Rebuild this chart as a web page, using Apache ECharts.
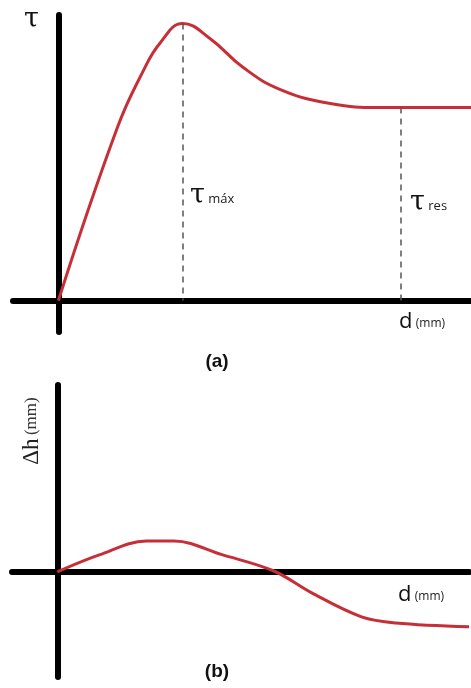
<!DOCTYPE html>
<html>
<head>
<meta charset="utf-8">
<title>ECharts</title>
<script type="text/javascript" src="https://cdn.jsdelivr.net/npm/echarts@6.0.0/dist/echarts.min.js"></script>
<style>
	html, body { margin: 0; padding: 0; background: #fff; }
</style>
</head>
<body>
	<div id="main" style="width: 471px; height: 688px;"></div>
<script type="text/javascript">
	// (a) shear stress vs displacement
	var tauD = [0, 14.3, 20.6, 24.7, 30.1, 36.8, 44.8, 53.8, 65.9, 78, 100];
	var tauV = [0, 60.6, 80.5, 90.3, 97.0, 91.7, 81.6, 73.9, 69.0, 67.6, 67.6];
	// (b) vertical displacement vs displacement
	var dhD = [0, 10.2, 21.6, 28.4, 40, 52.6, 61.8, 73.9, 82.2, 100];
	var dhV = [0, 5.8, 10.6, 10.6, 5.9, 0.3, -7.2, -15.4, -17.5, -18.8];
	// dashed markers: peak and residual
	var tauMax = [30.1, 97.0];
	var tauRes = [82.9, 67.6];

	function pairs(xs, ys) {
		var out = [];
		for (var i = 0; i < xs.length; i++) out.push([xs[i], ys[i]]);
		return out;
	}

	var red = '#c62f37';
	var axisStyle = { show: true, lineStyle: { color: '#000', width: 6, cap: 'round' } };

	function makeAxis(idx, min, max) {
		return {
			type: 'value', gridIndex: idx, min: min, max: max,
			axisLine: axisStyle,
			axisTick: { show: false }, axisLabel: { show: false }, splitLine: { show: false }
		};
	}

	var tauFont = '27px "DejaVu Serif"';
	var myChart = echarts.init(document.getElementById('main'));
	var option = {
		animation: false,
		backgroundColor: '#fff',
		grid: [
			{ left: 13, right: 0, top: 15, height: 317 },
			{ left: 12, right: 2, top: 385, height: 292 }
		],
		xAxis: [ makeAxis(0, -11, 100), makeAxis(1, -11, 100) ],
		yAxis: [ makeAxis(0, -11, 100), makeAxis(1, -36, 64) ],
		series: [ {
			type: 'line', xAxisIndex: 0, yAxisIndex: 0,
			data: pairs(tauD, tauV),
			smooth: 0.45, showSymbol: false,
			lineStyle: { color: red, width: 3 },
			markLine: {
				symbol: 'none', silent: true,
				label: { show: false },
				lineStyle: { color: '#555', width: 1.5, type: [6, 5] },
				data: [
					[ { coord: [tauMax[0], tauMax[1]] }, { coord: [tauMax[0], 0] } ],
					[ { coord: [tauRes[0], tauRes[1]] }, { coord: [tauRes[0], 0] } ]
				]
			}
		}, {
			type: 'line', xAxisIndex: 1, yAxisIndex: 1,
			data: pairs(dhD, dhV),
			smooth: 0.35, showSymbol: false,
			lineStyle: { color: red, width: 3 }
		} ],
		graphic: [
			{ type: 'text', left: 24, top: 6, style: { text: 'τ', font: tauFont, fill: '#111' } },
			{ type: 'text', x: 190, y: 196, style: {
				text: '{t|τ} {s|máx}', textVerticalAlign: 'middle',
				rich: { t: { font: tauFont, fill: '#111' }, s: { font: '13px "Open Sans"', fill: '#222', padding: [6, 0, 0, 0] } }
			} },
			{ type: 'text', x: 410, y: 203, style: {
				text: '{t|τ} {s|res}', textVerticalAlign: 'middle',
				rich: { t: { font: tauFont, fill: '#111' }, s: { font: '13px "Open Sans"', fill: '#222', padding: [6, 0, 0, 0] } }
			} },
			{ type: 'text', x: 399, y: 322, style: {
				text: '{d|d} {s|(mm)}', textVerticalAlign: 'middle',
				rich: { d: { font: '22px "Open Sans"', fill: '#111' }, s: { font: '12px "Open Sans"', fill: '#222', padding: [4, 0, 0, 0] } }
			} },
			{ type: 'text', x: 217, y: 362, style: { text: '(a)', font: 'bold 19px "Liberation Sans"', fill: '#111', textAlign: 'center', textVerticalAlign: 'middle' } },
			{ type: 'text', x: 398, y: 595, style: {
				text: '{d|d} {s|(mm)}', textVerticalAlign: 'middle',
				rich: { d: { font: '22px "Open Sans"', fill: '#111' }, s: { font: '12px "Open Sans"', fill: '#222', padding: [4, 0, 0, 0] } }
			} },
			{ type: 'text', x: 217, y: 672, style: { text: '(b)', font: 'bold 19px "Liberation Sans"', fill: '#111', textAlign: 'center', textVerticalAlign: 'middle' } },
			{ type: 'text', x: 32, y: 431, rotation: Math.PI / 2, style: {
				text: '{h|Δh} {s|(mm)}', textAlign: 'center', textVerticalAlign: 'middle',
				rich: { h: { font: '23px "Liberation Serif"', fill: '#222' }, s: { font: '17px "Liberation Serif"', fill: '#333' } }
			} }
		]
	};
	myChart.setOption(option);
</script>
</body>
</html>
